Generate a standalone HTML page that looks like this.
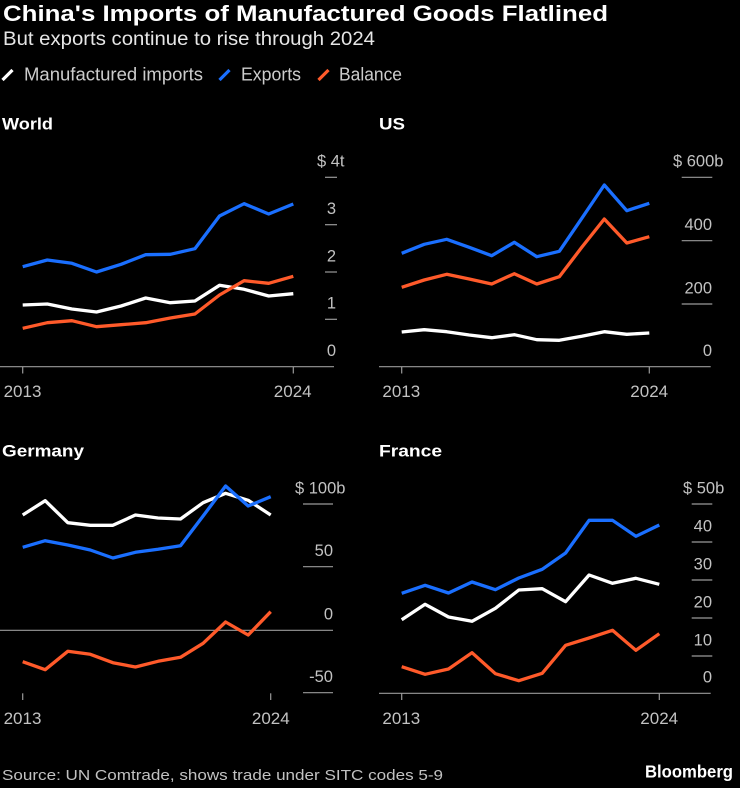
<!DOCTYPE html>
<html>
<head>
<meta charset="utf-8">
<style>
  html, body { margin: 0; padding: 0; background: #000; }
  svg { display: block; }
  text { font-family: "Liberation Sans", sans-serif; }
</style>
</head>
<body>
<svg width="740" height="788" viewBox="0 0 740 788" xmlns="http://www.w3.org/2000/svg">
  <rect x="0" y="0" width="740" height="788" fill="#000"/>

  <!-- Title -->
  <text x="3" y="21" font-size="22" font-weight="bold" fill="#ffffff" textLength="605" lengthAdjust="spacingAndGlyphs">China's Imports of Manufactured Goods Flatlined</text>
  <text x="3" y="45" font-size="19" fill="#e6e6e6" textLength="372" lengthAdjust="spacingAndGlyphs">But exports continue to rise through 2024</text>

  <!-- Legend -->
  <line x1="2.5" y1="80" x2="12.5" y2="70" stroke="#ffffff" stroke-width="3.2"/>
  <text x="24" y="80.5" font-size="18.5" fill="#cccccc" textLength="179" lengthAdjust="spacingAndGlyphs">Manufactured imports</text>
  <line x1="219.5" y1="80" x2="229.5" y2="70" stroke="#1a6fff" stroke-width="3.2"/>
  <text x="241" y="80.5" font-size="18.5" fill="#cccccc" textLength="60" lengthAdjust="spacingAndGlyphs">Exports</text>
  <line x1="318.5" y1="80" x2="328.5" y2="70" stroke="#ff5a2a" stroke-width="3.2"/>
  <text x="339" y="80.5" font-size="18.5" fill="#cccccc" textLength="63" lengthAdjust="spacingAndGlyphs">Balance</text>

  <!-- ================= WORLD ================= -->
  <text x="2" y="129.5" font-size="17" font-weight="bold" fill="#ffffff" textLength="51" lengthAdjust="spacingAndGlyphs">World</text>
  <g stroke="#9a9a9a" stroke-width="1.2">
    <line x1="325" y1="177.3" x2="337" y2="177.3"/>
    <line x1="325" y1="224.7" x2="337" y2="224.7"/>
    <line x1="325" y1="272" x2="337" y2="272"/>
    <line x1="325" y1="319.3" x2="337" y2="319.3"/>
    <line x1="0" y1="366.7" x2="334" y2="366.7"/>
    <line x1="22.7" y1="366.7" x2="22.7" y2="373.5"/>
    <line x1="293.3" y1="366.7" x2="293.3" y2="373.5"/>
  </g>
  <g font-size="16.5" fill="#c2c2c2">
    <text x="317" y="166.6">$ 4t</text>
    <text x="336" y="214" text-anchor="end">3</text>
    <text x="336" y="261.3" text-anchor="end">2</text>
    <text x="336" y="308.6" text-anchor="end">1</text>
    <text x="336" y="356" text-anchor="end">0</text>
  </g>
  <g font-size="17" fill="#c2c2c2" text-anchor="middle">
    <text x="22.5" y="397">2013</text>
    <text x="292.7" y="397">2024</text>
  </g>
  <g fill="none" stroke-width="3.3" stroke-linejoin="round">
    <polyline stroke="#ffffff" points="22.7,305 47.3,304 71.9,309 96.5,312 121.1,306 145.7,298 170.3,302.7 194.9,301 219.5,285.3 244.1,289.3 268.7,296 293.3,293.7"/>
    <polyline stroke="#1a6fff" points="22.7,266.7 47.3,260 71.9,263.3 96.5,272 121.1,264.3 145.7,254.7 170.3,254.3 194.9,248.7 219.5,216 244.1,203.7 268.7,214 293.3,204"/>
    <polyline stroke="#ff5a2a" points="22.7,328.3 47.3,322.7 71.9,320.7 96.5,326.7 121.1,324.7 145.7,322.7 170.3,318 194.9,314 219.5,295 244.1,280.7 268.7,283.3 293.3,276.3"/>
  </g>

  <!-- ================= US ================= -->
  <text x="379" y="129.5" font-size="17" font-weight="bold" fill="#ffffff" textLength="26" lengthAdjust="spacingAndGlyphs">US</text>
  <g stroke="#9a9a9a" stroke-width="1.2">
    <line x1="681.7" y1="177.3" x2="712.3" y2="177.3"/>
    <line x1="681.7" y1="240.7" x2="712.3" y2="240.7"/>
    <line x1="681.7" y1="304" x2="712.3" y2="304"/>
    <line x1="379" y1="366.7" x2="710.7" y2="366.7"/>
    <line x1="401.7" y1="366.7" x2="401.7" y2="373.5"/>
    <line x1="649.3" y1="366.7" x2="649.3" y2="373.5"/>
  </g>
  <g font-size="16.5" fill="#c2c2c2">
    <text x="673" y="166.6">$ 600b</text>
    <text x="712" y="230" text-anchor="end">400</text>
    <text x="712" y="293.3" text-anchor="end">200</text>
    <text x="712" y="356" text-anchor="end">0</text>
  </g>
  <g font-size="17" fill="#c2c2c2" text-anchor="middle">
    <text x="401.3" y="397">2013</text>
    <text x="649.2" y="397">2024</text>
  </g>
  <g fill="none" stroke-width="3.3" stroke-linejoin="round">
    <polyline stroke="#ffffff" points="401.7,332 424.2,329.7 446.7,331.7 469.2,335 491.7,337.7 514.3,334.7 536.8,339.7 559.3,340.3 581.8,336.3 604.3,331.7 626.8,334.3 649.3,333"/>
    <polyline stroke="#1a6fff" points="401.7,253.3 424.2,244.3 446.7,239.3 469.2,247.3 491.7,255.7 514.3,242.3 536.8,256.7 559.3,251.3 581.8,218.3 604.3,185 626.8,210.7 649.3,203.3"/>
    <polyline stroke="#ff5a2a" points="401.7,287.3 424.2,280 446.7,274.3 469.2,279 491.7,284 514.3,273.7 536.8,284 559.3,276.7 581.8,247.3 604.3,219 626.8,243 649.3,236.7"/>
  </g>

  <!-- ================= GERMANY ================= -->
  <text x="2" y="456.7" font-size="17" font-weight="bold" fill="#ffffff" textLength="82" lengthAdjust="spacingAndGlyphs">Germany</text>
  <g stroke="#9a9a9a" stroke-width="1.2">
    <line x1="303" y1="504" x2="333" y2="504"/>
    <line x1="303" y1="566.7" x2="333" y2="566.7"/>
    <line x1="0" y1="630.3" x2="333" y2="630.3"/>
    <line x1="303" y1="692.7" x2="333" y2="692.7"/>
    <line x1="22.7" y1="693.3" x2="22.7" y2="700"/>
    <line x1="270.7" y1="693.3" x2="270.7" y2="700"/>
  </g>
  <g font-size="16.5" fill="#c2c2c2">
    <text x="295" y="493.3">$ 100b</text>
    <text x="333" y="556" text-anchor="end">50</text>
    <text x="333" y="619.3" text-anchor="end">0</text>
    <text x="333" y="682" text-anchor="end">-50</text>
  </g>
  <g font-size="17" fill="#c2c2c2" text-anchor="middle">
    <text x="22.5" y="724">2013</text>
    <text x="270.8" y="724">2024</text>
  </g>
  <g fill="none" stroke-width="3.3" stroke-linejoin="round">
    <polyline stroke="#ffffff" points="22.7,515 45.2,500.7 67.8,522.7 90.3,525.3 112.9,525.3 135.4,515 158,518 180.5,519 203.1,502.7 225.6,493.3 248.2,500.3 270.7,515"/>
    <polyline stroke="#1a6fff" points="22.7,547.3 45.2,540.7 67.8,545 90.3,550 112.9,558 135.4,552.3 158,549.3 180.5,545.7 203.1,516 225.6,486 248.2,506 270.7,496.7"/>
    <polyline stroke="#ff5a2a" points="22.7,661.7 45.2,669.7 67.8,651.3 90.3,654.3 112.9,662.7 135.4,667 158,661.3 180.5,657.3 203.1,643.3 225.6,622 248.2,635 270.7,611.7"/>
  </g>

  <!-- ================= FRANCE ================= -->
  <text x="379" y="456.7" font-size="17" font-weight="bold" fill="#ffffff" textLength="63" lengthAdjust="spacingAndGlyphs">France</text>
  <g stroke="#9a9a9a" stroke-width="1.2">
    <line x1="691.7" y1="504" x2="712.3" y2="504"/>
    <line x1="691.7" y1="542" x2="712.3" y2="542"/>
    <line x1="691.7" y1="580" x2="712.3" y2="580"/>
    <line x1="691.7" y1="618" x2="712.3" y2="618"/>
    <line x1="691.7" y1="656" x2="712.3" y2="656"/>
    <line x1="379" y1="693.3" x2="710.7" y2="693.3"/>
    <line x1="401.7" y1="693.3" x2="401.7" y2="700"/>
    <line x1="659.3" y1="693.3" x2="659.3" y2="700"/>
  </g>
  <g font-size="16.5" fill="#c2c2c2">
    <text x="683" y="493.3">$ 50b</text>
    <text x="712" y="531.3" text-anchor="end">40</text>
    <text x="712" y="569.3" text-anchor="end">30</text>
    <text x="712" y="607.3" text-anchor="end">20</text>
    <text x="712" y="645.3" text-anchor="end">10</text>
    <text x="712" y="682.6" text-anchor="end">0</text>
  </g>
  <g font-size="17" fill="#c2c2c2" text-anchor="middle">
    <text x="401.3" y="724">2013</text>
    <text x="659.2" y="724">2024</text>
  </g>
  <g fill="none" stroke-width="3.3" stroke-linejoin="round">
    <polyline stroke="#ffffff" points="401.7,619.7 425.1,604.3 448.5,617 472,621.3 495.4,608.3 518.8,590 542.2,588.7 565.6,601.7 589.1,575 612.5,583.3 635.9,578.3 659.3,584.3"/>
    <polyline stroke="#1a6fff" points="401.7,593.3 425.1,585.3 448.5,593 472,582 495.4,589.7 518.8,578 542.2,569.3 565.6,553 589.1,520.3 612.5,520.3 635.9,536.3 659.3,525"/>
    <polyline stroke="#ff5a2a" points="401.7,666.7 425.1,674.3 448.5,669 472,652.7 495.4,673.7 518.8,680.7 542.2,673.3 565.6,645.3 589.1,638 612.5,630.3 635.9,650.3 659.3,633.7"/>
  </g>

  <!-- Footer -->
  <text x="2" y="780" font-size="15" fill="#c2c2c2" textLength="441" lengthAdjust="spacingAndGlyphs">Source: UN Comtrade, shows trade under SITC codes 5-9</text>
  <text x="645" y="777.5" font-size="17.5" font-weight="bold" fill="#ffffff" textLength="88" lengthAdjust="spacingAndGlyphs">Bloomberg</text>
</svg>
</body>
</html>
